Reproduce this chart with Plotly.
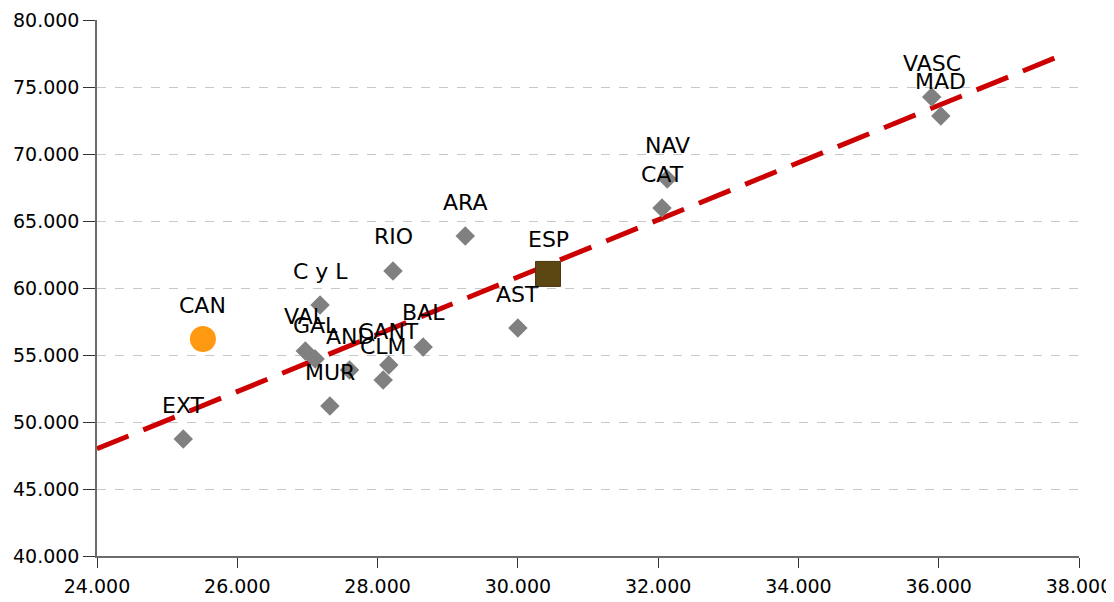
"""Scatter of regions with trend line (Plotly)."""

import plotly.graph_objects as go

# ------------------------------------------------------------------
# Data
# ------------------------------------------------------------------

regions = ["EXT", "C y L", "GAL", "VAL", "AND", "MUR", "CLM", "CANT", "BAL",
           "RIO", "ARA", "AST", "CAT", "NAV", "VASC", "MAD"]
region_x = [25230, 27180, 27110, 26970, 27600, 27320, 28080, 28160, 28650,
            28220, 29250, 30000, 32055, 32130, 35900, 36030]
region_y = [48730, 58730, 54700, 55300, 53880, 51190, 53130, 54250, 55600,
            61270, 63880, 57010, 65970, 68130, 74250, 72840]

can_label = ["CAN"]
can_x = [25510]
can_y = [56190]

esp_label = ["ESP"]
esp_x = [30430]
esp_y = [61050]

trend_x = [24000, 37700]
trend_y = [48000, 77260]

x_ticks = [24000, 26000, 28000, 30000, 32000, 34000, 36000, 38000]
y_ticks = [40000, 45000, 50000, 55000, 60000, 65000, 70000, 75000, 80000]

FONT = "DejaVu Sans"

fig = go.Figure()

fig.add_trace(go.Scatter(
    x=trend_x, y=trend_y,
    mode="lines",
    line=dict(color="#CC0000", width=5, dash="34px,16px"),
    hoverinfo="skip",
))
fig.add_trace(go.Scatter(
    x=region_x, y=region_y,
    mode="markers",
    marker=dict(symbol="diamond", size=15, color="#808080"),
))
fig.add_trace(go.Scatter(
    x=can_x, y=can_y,
    mode="markers",
    marker=dict(symbol="circle", size=26, color="#FF9912"),
))
fig.add_trace(go.Scatter(
    x=esp_x, y=esp_y,
    mode="markers",
    marker=dict(symbol="square", size=25, color="#5C4713",
                line=dict(color="#4a3810", width=1)),
))

# point labels
for names, xs, ys in [(regions, region_x, region_y),
                      (can_label, can_x, can_y),
                      (esp_label, esp_x, esp_y)]:
    for name, x, y in zip(names, xs, ys):
        fig.add_annotation(
            x=x, y=y, text=name, showarrow=False, yshift=34,
            font=dict(family=FONT, size=22, color="#000000"),
        )

# page body has an 8px margin, so the figure is offset by 8px
fig.update_layout(
    width=1106, height=594,
    showlegend=False,
    plot_bgcolor="white",
    paper_bgcolor="white",
    separators=",.",
    margin=dict(l=89, r=35, t=12, b=46, autoexpand=False),
    font=dict(family=FONT, size=19, color="#000000"),
)
fig.update_xaxes(
    range=[24000, 38000], tickvals=x_ticks, tickformat=",d",
    showgrid=False, zeroline=False,
    showline=True, linecolor="#6b6b6b", linewidth=1.5,
    ticks="outside", ticklen=10, tickcolor="#333333",
    ticklabelstandoff=2,
)
fig.update_yaxes(
    range=[40000, 80000], tickvals=y_ticks, tickformat=",d",
    showgrid=True, gridcolor="#c8c8c8", griddash="dash", gridwidth=1,
    zeroline=False,
    showline=True, linecolor="#6b6b6b", linewidth=1.5,
    ticks="outside", ticklen=12, tickcolor="#333333",
    ticklabelstandoff=0,
)

fig.write_html("out.html")
